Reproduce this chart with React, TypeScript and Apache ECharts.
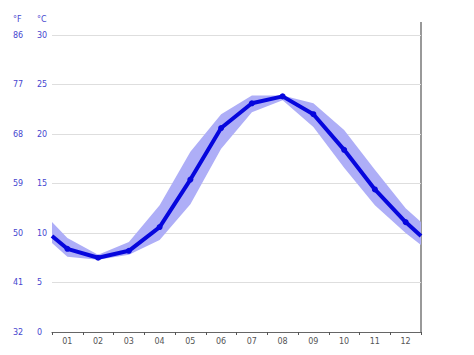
import React, { useEffect, useRef } from "react";
import * as echarts from "echarts";

const months = ["01", "02", "03", "04", "05", "06", "07", "08", "09", "10", "11", "12"];
// positions on hidden value axis: edges + month centers
const xPos = [0, 0.5, 1.5, 2.5, 3.5, 4.5, 5.5, 6.5, 7.5, 8.5, 9.5, 10.5, 11.5, 12];
const meanTemp = [9.7, 8.4, 7.5, 8.2, 10.6, 15.4, 20.6, 23.1, 23.8, 22.0, 18.4, 14.4, 11.1, 9.7];
const lowTemp = [9.0, 7.6, 7.3, 7.8, 9.3, 12.9, 18.5, 22.2, 23.4, 20.7, 16.6, 12.8, 10.0, 8.8];
const highTemp = [11.1, 9.5, 7.8, 9.1, 12.8, 18.2, 22.0, 23.9, 23.9, 23.1, 20.4, 16.4, 12.5, 11.1];
const celsiusTicks = [0, 5, 10, 15, 20, 25, 30];

export default function App() {
  const ref = useRef<HTMLDivElement>(null);
  useEffect(() => {
    if (!ref.current) return;
    const chart = echarts.init(ref.current, null, { renderer: "svg" });
    const font = "DejaVu Sans";
    const labelBlue = "#4646cf";
    const bandData = xPos.map((x, i) => [x, lowTemp[i], highTemp[i]]);
    const mean = xPos.map((x, i) => ({
      value: [x, meanTemp[i]],
      symbol: i === 0 || i === xPos.length - 1 ? "none" : "circle",
    }));
    chart.setOption({
      animation: false,
      grid: { left: 52, right: 53, top: 35, bottom: 23 },
      xAxis: [
        {
          type: "category",
          data: months,
          boundaryGap: true,
          axisLine: { lineStyle: { color: "#666", width: 1.2 } },
          axisTick: { show: true, length: 3, inside: false, lineStyle: { color: "#555" } },
          axisLabel: { color: "#555", fontSize: 8, fontFamily: font, margin: 5 },
          splitLine: { show: false },
        },
        { type: "value", min: 0, max: 12, show: false },
      ],
      yAxis: [
        {
          type: "value",
          min: celsiusTicks[0],
          max: celsiusTicks[celsiusTicks.length - 1],
          interval: 5,
          axisLine: { show: false },
          axisTick: { show: false },
          axisLabel: { color: labelBlue, fontSize: 8, fontFamily: font, align: "left", margin: 15 },
          splitLine: { lineStyle: { color: "#dedede", width: 1 } },
        },
        {
          type: "value",
          position: "left",
          min: celsiusTicks[0],
          max: celsiusTicks[celsiusTicks.length - 1],
          interval: 5,
          axisLine: { show: false },
          axisTick: { show: false },
          axisLabel: {
            color: labelBlue,
            fontSize: 8,
            fontFamily: font,
            align: "left",
            margin: 39,
            formatter: (v: number) => String(Math.round((v * 9) / 5 + 32)),
          },
          splitLine: { show: false },
        },
      ],
      graphic: [
        { type: "text", left: 13, top: 15, style: { text: "°F", fill: labelBlue, font: `8px ${font}` } },
        { type: "text", left: 37, top: 15, style: { text: "°C", fill: labelBlue, font: `8px ${font}` } },
        {
          type: "line",
          shape: { x1: 421, y1: 22, x2: 421, y2: 332 },
          style: { stroke: "#999", lineWidth: 2 },
        },
      ],
      series: [
        {
          type: "custom",
          xAxisIndex: 1,
          yAxisIndex: 0,
          data: bandData,
          silent: true,
          z: 2,
          renderItem: (params: any, api: any) => {
            if (params.dataIndex !== 0) return null;
            const upper = bandData.map((d) => api.coord([d[0], d[2]]));
            const lowerPts = bandData.map((d) => api.coord([d[0], d[1]])).reverse();
            return {
              type: "polygon",
              shape: { points: upper.concat(lowerPts) },
              style: { fill: "#aeaef7" },
            };
          },
        },
        {
          type: "line",
          xAxisIndex: 1,
          yAxisIndex: 0,
          data: mean,
          symbolSize: 6,
          itemStyle: { color: "#0606dd" },
          lineStyle: { color: "#0606dd", width: 4 },
          z: 5,
        },
      ],
    });
    return () => chart.dispose();
  }, []);
  return <div ref={ref} style={{ width: 474, height: 355, position: "absolute", left: 0, top: 0 }} />;
}
